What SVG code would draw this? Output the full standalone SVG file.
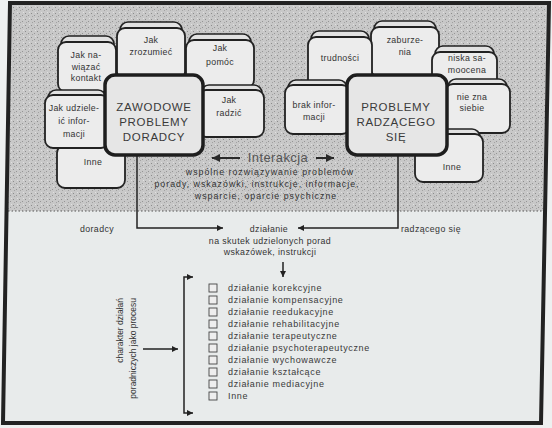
<svg xmlns="http://www.w3.org/2000/svg" width="552" height="428" viewBox="0 0 552 428">
<defs>
<pattern id="stip" width="6" height="6" patternUnits="userSpaceOnUse">
<rect width="6" height="6" fill="#c8c8c8"/>
<rect x="1" y="1" width="1" height="1" fill="#8c8c8c"/>
<rect x="4" y="3" width="1" height="1" fill="#959595"/>
<rect x="2" y="4" width="1" height="1" fill="#a2a2a2"/>
<rect x="5" y="0" width="1" height="1" fill="#e0e0e0"/>
</pattern>
<marker id="ah" viewBox="0 0 10 10" refX="10" refY="5" markerWidth="9" markerHeight="6" orient="auto-start-reverse" markerUnits="userSpaceOnUse">
<path d="M0,0 L10,5 L0,10 z" fill="#222"/>
</marker>
<marker id="ahb" viewBox="0 0 10 10" refX="10" refY="5" markerWidth="13" markerHeight="8" orient="auto-start-reverse" markerUnits="userSpaceOnUse">
<path d="M0,0 L10,5 L0,10 z" fill="#2a2a2a"/>
</marker>
<style>
.bk{fill:#e2e2e2;stroke:#222;stroke-width:1.6}
.fr{fill:#ececec;stroke:#222;stroke-width:1.8}
.ctr{fill:#e6e6e6;stroke:#1e1e1e;stroke-width:3.5}
.t{font-family:"Liberation Sans",Arial,sans-serif;font-size:8.8px;fill:#333;text-anchor:middle;letter-spacing:0.3px}
.tc{font-family:"Liberation Sans",Arial,sans-serif;font-size:11.5px;fill:#3a3a3a;text-anchor:middle;letter-spacing:0.7px}
.ti{font-family:"Liberation Sans",Arial,sans-serif;font-size:8.8px;fill:#333;text-anchor:middle;letter-spacing:1px}
.tl{font-family:"Liberation Sans",Arial,sans-serif;font-size:9px;fill:#3a3a3a;letter-spacing:0.65px}
.tm{font-family:"Liberation Sans",Arial,sans-serif;font-size:8.8px;fill:#333;text-anchor:middle;letter-spacing:0.4px}
.tr{font-family:"Liberation Sans",Arial,sans-serif;font-size:8.5px;fill:#333;text-anchor:end}
.ln{fill:none;stroke:#222;stroke-width:1.5}
.cb{fill:#eeeeee;stroke:#444;stroke-width:0.9}
</style>
</defs>
<rect width="552" height="428" fill="#eef0f0"/>
<polygon points="10,3 549,3 541,423 3,423" fill="#e8ebeb"/>
<polygon points="12,5 547,5 543,211 8,211" fill="url(#stip)"/>
<line x1="8" y1="211" x2="543" y2="211" stroke="#555" stroke-width="1" stroke-dasharray="1.5,2"/>
<polygon points="10,3 549,3 541,423 3,423" fill="none" stroke="#222" stroke-width="4"/>

<g id="connectors">
<path class="ln" d="M137,156 V228 H223" marker-end="url(#ah)"/>
<path class="ln" d="M398,156 V228 H298" marker-end="url(#ah)"/>
<path class="ln" d="M283,262 V277" marker-end="url(#ah)"/>
<path class="ln" d="M193,277 H184 V413 H193" marker-start="url(#ah)" marker-end="url(#ah)"/>
<path class="ln" d="M143,349 H178" marker-end="url(#ah)"/>
<path fill="none" stroke="#2a2a2a" stroke-width="2" d="M240,158 H212" marker-end="url(#ahb)"/>
<path fill="none" stroke="#2a2a2a" stroke-width="2" d="M316,158 H334" marker-end="url(#ahb)"/>
</g>

<g id="zrozumiec"><rect class="bk" x="120" y="22" width="62" height="55" rx="8"/><rect class="fr" x="117" y="28" width="68" height="52" rx="8"/><text class="t" x="151" y="43">Jak</text><text class="t" x="151" y="55">zrozumieć</text></g>
<g id="nawiazac"><rect class="bk" x="61" y="36" width="53" height="52" rx="8"/><rect class="fr" x="58" y="42" width="58" height="50" rx="8"/><text class="t" x="86" y="58">Jak  na-</text><text class="t" x="86" y="70">wiązać</text><text class="t" x="86" y="81">kontakt</text></g>
<g id="pomoc"><rect class="bk" x="189" y="34" width="62" height="50" rx="8"/><rect class="fr" x="186" y="40" width="68" height="48" rx="8"/><text class="t" x="220" y="51">Jak</text><text class="t" x="220" y="65">pomóc</text></g>
<g id="radzic"><rect class="bk" x="201" y="85" width="61" height="50" rx="8"/><rect class="fr" x="198" y="90" width="66" height="47" rx="8"/><text class="t" x="229" y="103">Jak</text><text class="t" x="229" y="116">radzić</text></g>
<g id="inne-l"><rect class="bk" x="60" y="140" width="62" height="45" rx="8"/><rect class="fr" x="57" y="145" width="68" height="43" rx="8"/><text class="t" x="93" y="165">Inne</text></g>
<g id="udzielic"><rect class="bk" x="48" y="90" width="58" height="55" rx="8"/><rect class="fr" x="45" y="95" width="64" height="53" rx="8"/><text class="t" x="74" y="111">Jak udziele-</text><text class="t" x="74" y="124">ić infor-</text><text class="t" x="74" y="137">macji</text></g>
<g id="zawodowe"><rect class="ctr" x="105" y="75" width="98" height="80" rx="10"/><text class="tc" x="154" y="111">ZAWODOWE</text><text class="tc" x="154" y="126">PROBLEMY</text><text class="tc" x="154" y="141">DORADCY</text></g>

<g id="zaburzenia"><rect class="bk" x="374" y="21" width="62" height="53" rx="8"/><rect class="fr" x="371" y="27" width="68" height="50" rx="8"/><text class="t" x="405" y="43">zaburze-</text><text class="t" x="405" y="55">nia</text></g>
<g id="trudnosci"><rect class="bk" x="311" y="31" width="58" height="60" rx="8"/><rect class="fr" x="308" y="37" width="64" height="58" rx="8"/><text class="t" x="340" y="61">trudności</text></g>
<g id="niska"><rect class="bk" x="435" y="46" width="59" height="45" rx="8"/><rect class="fr" x="432" y="52" width="65" height="43" rx="8"/><text class="t" x="467" y="61">niska  sa-</text><text class="t" x="467" y="73">moocena</text></g>
<g id="niezna"><rect class="bk" x="448" y="79" width="59" height="50" rx="8"/><rect class="fr" x="445" y="84" width="65" height="49" rx="8"/><text class="t" x="472" y="100">nie zna</text><text class="t" x="472" y="111">siebie</text></g>
<g id="inne-r"><rect class="bk" x="418" y="129" width="62" height="50" rx="8"/><rect class="fr" x="415" y="134" width="68" height="48" rx="8"/><text class="t" x="452" y="170">Inne</text></g>
<g id="brak"><rect class="bk" x="288" y="80" width="59" height="52" rx="8"/><rect class="fr" x="285" y="85" width="65" height="49" rx="8"/><text class="t" x="314" y="108">brak infor-</text><text class="t" x="314" y="120">macji</text></g>
<g id="radzacego"><rect class="ctr" x="347" y="75" width="100" height="80" rx="10"/><text class="tc" x="396" y="111">PROBLEMY</text><text class="tc" x="396" y="126">RADZĄCEGO</text><text class="tc" x="396" y="141">SIĘ</text></g>

<g id="interakcja">
<text x="278" y="162" font-family="'Liberation Sans',Arial,sans-serif" font-size="13" fill="#555" text-anchor="middle" letter-spacing="0.4">Interakcja</text>
<text class="ti" x="270" y="175">wspólne rozwiązywanie problemów</text>
<text class="ti" x="257" y="187">porady, wskazówki, instrukcje, informacje,</text>
<text class="ti" x="266" y="199">wsparcie, oparcie psychiczne</text>
</g>

<g id="labels">
<text class="tm" x="97" y="232">doradcy</text>
<text class="tm" x="269" y="232">działanie</text>
<text class="tm" x="431" y="232">radzącego się</text>
<text class="tm" x="270" y="244">na skutek udzielonych porad</text>
<text class="tm" x="270" y="255">wskazówek, instrukcji</text>
</g>

<g id="charakter">
<text class="tr" transform="translate(123,298) rotate(-90)">charakter działań</text>
<text class="tr" transform="translate(136,298) rotate(-90)">poradniczych jako procesu</text>
</g>

<g id="lista">
<rect class="cb" x="209" y="284" width="8" height="8"/><text class="tl" x="228" y="291">działanie korekcyjne</text>
<rect class="cb" x="209" y="296" width="8" height="8"/><text class="tl" x="228" y="303">działanie  kompensacyjne</text>
<rect class="cb" x="209" y="308" width="8" height="8"/><text class="tl" x="228" y="315">działanie reedukacyjne</text>
<rect class="cb" x="209" y="320" width="8" height="8"/><text class="tl" x="228" y="327">działanie rehabilitacyjne</text>
<rect class="cb" x="209" y="332" width="8" height="8"/><text class="tl" x="228" y="339">działanie  terapeutyczne</text>
<rect class="cb" x="209" y="344" width="8" height="8"/><text class="tl" x="228" y="351">działanie psychoterapeutyczne</text>
<rect class="cb" x="209" y="356" width="8" height="8"/><text class="tl" x="228" y="363">działanie wychowawcze</text>
<rect class="cb" x="209" y="368" width="8" height="8"/><text class="tl" x="228" y="375">działanie kształcące</text>
<rect class="cb" x="209" y="380" width="8" height="8"/><text class="tl" x="228" y="387">działanie mediacyjne</text>
<rect class="cb" x="209" y="392" width="8" height="8"/><text class="tl" x="228" y="399">Inne</text>
</g>
</svg>
